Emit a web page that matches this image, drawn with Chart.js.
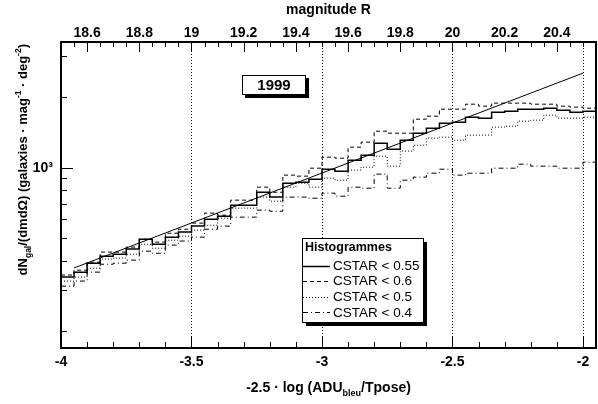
<!DOCTYPE html>
<html>
<head>
<meta charset="utf-8">
<script src="https://cdn.jsdelivr.net/npm/chart.js@4.4.1/dist/chart.umd.min.js"></script>
<style>
  html, body { margin: 0; padding: 0; background: #fff; }
  #wrap { width: 598px; height: 404px; }
</style>
</head>
<body>
<div id="wrap"><canvas id="countsChart" width="598" height="404"></canvas></div>
<script>
// bin edges in -2.5 log(ADU/Tpose), 0.05 wide
const binEdges = [-4.00, -3.95, -3.90, -3.85, -3.80, -3.75, -3.70, -3.65, -3.60, -3.55,
                  -3.50, -3.45, -3.40, -3.35, -3.30, -3.25, -3.20, -3.15, -3.10, -3.05,
                  -3.00, -2.95, -2.90, -2.85, -2.80, -2.75, -2.70, -2.65, -2.60, -2.55,
                  -2.50, -2.45, -2.40, -2.35, -2.30, -2.25, -2.20, -2.15, -2.10, -2.05,
                  -2.00, -1.95];

// counts per bin (galaxies / mag / deg2)
const cstar055 = [340, 357, 390, 418, 426, 448, 494, 470, 504, 530,
                  562, 602, 620, 691, 691, 785, 748, 858, 867, 893,
                  985, 966, 1077, 1131, 1273, 1200, 1311, 1405, 1476, 1551,
                  1566, 1645, 1629, 1728, 1745, 1780, 1780, 1798, 1763, 1728, 1745];
const cstar06 = [347, 364, 394, 435, 435, 457, 494, 480, 524, 545,
                 579, 639, 626, 726, 726, 825, 785, 929, 920, 995,
                 1109, 1098, 1224, 1286, 1433, 1405, 1405, 1613, 1661, 1780,
                 1780, 1870, 1834, 1889, 1889, 1889, 1870, 1870, 1834, 1816, 1798];
const cstar05 = [327, 340, 371, 406, 410, 426, 470, 452, 489, 509,
                 540, 567, 608, 671, 671, 748, 719, 825, 858, 825,
                 902, 884, 976, 1005, 1120, 1015, 1177, 1248, 1338, 1351,
                 1311, 1378, 1378, 1491, 1505, 1582, 1597, 1678, 1629, 1629, 1645];
const cstar04 = [311, 327, 357, 386, 390, 402, 439, 430, 466, 485,
                 504, 545, 562, 614, 614, 658, 651, 748, 748, 740,
                 778, 755, 825, 817, 938, 817, 884, 911, 947, 985,
                 929, 947, 947, 995, 995, 1035, 1015, 1015, 995, 995, 1056];

// power-law fit (straight on the log axis)
const fitX = [-3.95, -2.0];
const fitY = [372, 2540];

const xTicks = [-4, -3.5, -3, -2.5, -2];
const magTicks = [18.6, 18.8, 19, 19.2, 19.4, 19.6, 19.8, 20, 20.2, 20.4];
const yTicks = [200, 300, 400, 500, 600, 700, 800, 900, 1000, 2000, 3000];
const gridAt = [-3.5, -3, -2.5, -2];

const FONT = '"Liberation Sans", Arial, Helvetica, sans-serif';

function histPoints(vals) {
    return binEdges.map((x, i) => ({ x: x, y: vals[Math.min(i, vals.length - 1)] }));
}

function histSet(label, vals, dash, width) {
    return {
        label: label,
        data: histPoints(vals),
        stepped: 'before',
        borderColor: '#000',
        borderWidth: width,
        borderDash: dash,
        pointRadius: 0,
        fill: false,
        inLegend: true
    };
}

function drawRich(ctx, parts, x, y, align) {
    let total = 0;
    parts.forEach(p => { ctx.font = p.font; total += ctx.measureText(p.text).width; });
    let cx = align === 'center' ? x - total / 2 : (align === 'right' ? x - total : x);
    ctx.textAlign = 'left';
    ctx.textBaseline = 'alphabetic';
    parts.forEach(p => {
        ctx.font = p.font;
        ctx.fillText(p.text, cx, y + (p.dy || 0));
        cx += ctx.measureText(p.text).width;
    });
}

const decorations = {
    id: 'decorations',
    beforeDatasetsDraw(chart) {
        const { ctx, chartArea: a, scales: { x } } = chart;
        ctx.save();
        ctx.strokeStyle = '#000';
        ctx.lineWidth = 1;
        ctx.setLineDash([1, 2]);
        gridAt.forEach(v => {
            const px = Math.round(x.getPixelForValue(v)) + 0.5;
            ctx.beginPath();
            ctx.moveTo(px, a.top);
            ctx.lineTo(px, a.bottom);
            ctx.stroke();
        });
        ctx.restore();
    },
    afterDraw(chart) {
        const { ctx, chartArea: a, scales } = chart;
        const x = scales.x, x2 = scales.x2, y = scales.y;
        ctx.save();
        ctx.strokeStyle = '#000';
        ctx.fillStyle = '#000';
        ctx.lineWidth = 1;

        // tick marks, pointing inwards
        ctx.beginPath();
        for (let i = 0; i <= 20; i++) {
            const px = Math.round(x.getPixelForValue(-4 + i * 0.1)) + 0.5;
            const len = i % 5 === 0 ? 11 : 6;
            ctx.moveTo(px, a.bottom);
            ctx.lineTo(px, a.bottom - len);
        }
        for (let i = 0; i <= 41; i++) {
            const px = Math.round(x2.getPixelForValue(18.5 + i * 0.05)) + 0.5;
            const len = (i - 2) % 4 === 0 ? 10 : 5;
            ctx.moveTo(px, a.top);
            ctx.lineTo(px, a.top + len);
        }
        yTicks.forEach(v => {
            const py = Math.round(y.getPixelForValue(v)) + 0.5;
            const len = v === 1000 ? 12 : 6;
            ctx.moveTo(a.left, py);
            ctx.lineTo(a.left + len, py);
        });
        ctx.stroke();

        // frame
        ctx.lineWidth = 2;
        ctx.strokeRect(a.left, a.top, a.right - a.left, a.bottom - a.top);

        // "1999" box with shadow
        ctx.lineWidth = 1;
        ctx.fillStyle = '#fff';
        ctx.fillRect(242, 75, 64, 19);
        ctx.strokeRect(242.5, 75.5, 63, 19);
        ctx.fillStyle = '#000';
        ctx.fillRect(306, 78, 3, 20);
        ctx.fillRect(245, 95, 64, 3);
        ctx.font = 'bold 15px ' + FONT;
        ctx.textAlign = 'center';
        ctx.textBaseline = 'middle';
        ctx.fillText('1999', 274, 86);

        // legend box
        ctx.fillStyle = '#fff';
        ctx.fillRect(302, 238, 122, 85);
        ctx.strokeRect(302.5, 238.5, 121, 84);
        ctx.fillStyle = '#000';
        ctx.fillRect(424, 242, 3, 84);
        ctx.fillRect(306, 323, 121, 3);
        ctx.textAlign = 'left';
        ctx.font = 'bold 12.5px ' + FONT;
        ctx.fillText('Histogrammes', 305, 248);
        ctx.font = '13.5px ' + FONT;
        let ly = 265.5;
        chart.data.datasets.filter(d => d.inLegend).forEach(d => {
            ctx.save();
            ctx.lineWidth = d.borderWidth;
            ctx.setLineDash(d.borderDash || []);
            ctx.beginPath();
            ctx.moveTo(303, Math.round(ly) + 0.5);
            ctx.lineTo(330, Math.round(ly) + 0.5);
            ctx.stroke();
            ctx.restore();
            ctx.fillText(d.label, 333, ly + 0.5);
            ly += 15.6;
        });

        // axis titles
        ctx.font = 'bold 14px ' + FONT;
        ctx.textAlign = 'center';
        ctx.textBaseline = 'middle';
        ctx.fillText('magnitude R', (a.left + a.right) / 2, 10);

        const big = 'bold 14px ' + FONT;
        const small = 'bold 9px ' + FONT;
        drawRich(ctx, [
            { text: '-2.5 \u00b7 log (ADU', font: big },
            { text: 'bleu', font: small, dy: 4 },
            { text: '/Tpose)', font: big }
        ], (a.left + a.right) / 2, 392, 'center');

        const yb = 'bold 13px ' + FONT;
        const ys = 'bold 8.5px ' + FONT;
        ctx.translate(27, 44);
        ctx.rotate(-Math.PI / 2);
        drawRich(ctx, [
            { text: 'dN', font: yb },
            { text: 'gal', font: ys, dy: 4 },
            { text: '/(dmd\u03a9) (galaxies \u00b7 mag', font: yb },
            { text: '-1', font: ys, dy: -6 },
            { text: ' \u00b7 deg', font: yb },
            { text: '-2', font: ys, dy: -6 },
            { text: ')', font: yb }
        ], 0, 0, 'right');
        ctx.restore();
    }
};

const tickFont = { family: FONT, size: 14, weight: 'bold' };

new Chart(document.getElementById('countsChart'), {
    type: 'line',
    data: {
        datasets: [
            histSet('CSTAR < 0.55', cstar055, [], 1.5),
            histSet('CSTAR < 0.6', cstar06, [4, 3], 1),
            histSet('CSTAR < 0.5', cstar05, [1, 2], 1),
            histSet('CSTAR < 0.4', cstar04, [5, 3, 1, 3], 1),
            {
                label: 'fit',
                data: fitX.map((v, i) => ({ x: v, y: fitY[i] })),
                borderColor: '#000',
                borderWidth: 1,
                pointRadius: 0,
                fill: false
            }
        ]
    },
    options: {
        responsive: false,
        animation: false,
        layout: { padding: { left: 0, right: 2, top: 0, bottom: 0 } },
        plugins: { legend: { display: false }, tooltip: { enabled: false } },
        scales: {
            x: {
                type: 'linear',
                position: 'bottom',
                min: -4,
                max: -1.95,
                afterBuildTicks: s => { s.ticks = xTicks.map(v => ({ value: v })); },
                afterFit: s => { s.height = 56; },
                grid: { display: false, drawTicks: false },
                border: { display: false },
                ticks: { callback: v => String(v), font: tickFont, color: '#000', padding: 6, maxRotation: 0, autoSkip: false }
            },
            x2: {
                type: 'linear',
                position: 'top',
                min: 18.5,
                max: 20.55,
                afterBuildTicks: s => { s.ticks = magTicks.map(v => ({ value: v })); },
                afterFit: s => { s.height = 42; },
                grid: { display: false, drawTicks: false },
                border: { display: false },
                ticks: { callback: v => String(v), font: tickFont, color: '#000', padding: 0, maxRotation: 0, autoSkip: false }
            },
            y: {
                type: 'logarithmic',
                min: 169,
                max: 3452,
                afterBuildTicks: s => { s.ticks = yTicks.map(v => ({ value: v })); },
                afterFit: s => { s.width = 61; },
                grid: { display: false, drawTicks: false },
                border: { display: false },
                ticks: { callback: v => (v === 1000 ? '10\u00b3' : ''), font: tickFont, color: '#000', padding: 8, autoSkip: false }
            }
        }
    },
    plugins: [decorations]
});
</script>
</body>
</html>
